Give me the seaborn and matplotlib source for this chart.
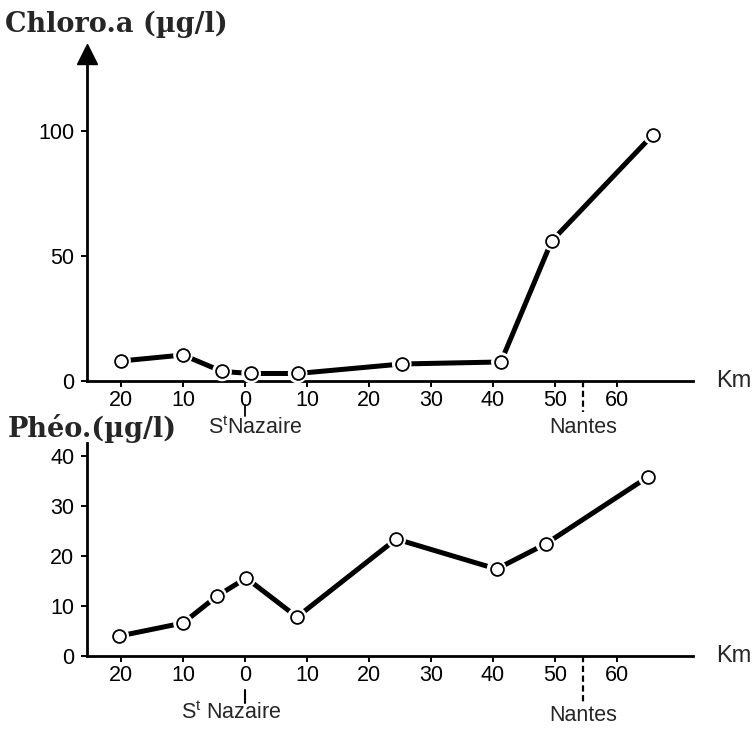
import matplotlib
matplotlib.use("Agg")
import matplotlib.pyplot as plt
from matplotlib.transforms import offset_copy
import numpy as np
import pandas as pd
import seaborn as sns

# ---------------- data ----------------
km_chloro = [-20.0, -10.0, -3.7, 1.0, 8.5, 25.3, 41.3, 49.5, 65.8]
chloro = [8.0, 10.4, 3.8, 3.0, 3.0, 6.8, 7.6, 56.0, 98.4]

km_pheo = [-20.3, -10.0, -4.5, 0.2, 8.4, 24.4, 40.6, 48.5, 65.0]
pheo = [4.0, 6.6, 12.0, 15.6, 7.8, 23.4, 17.4, 22.4, 35.8]

x_ticks = [-20, -10, 0, 10, 20, 30, 40, 50, 60]
x_ticklabels = ["20", "10", "0", "10", "20", "30", "40", "50", "60"]
chloro_yticks = [0, 50, 100]
pheo_yticks = [0, 10, 20, 30, 40]

st_nazaire_km = 0
nantes_km = 54.5

# ---------------- style ----------------
sns.set_style("ticks")
plt.rcParams["font.family"] = ["Liberation Sans", "DejaVu Sans"]
plt.rcParams["mathtext.fontset"] = "custom"
plt.rcParams["mathtext.rm"] = "Liberation Sans"
plt.rcParams["mathtext.it"] = "Liberation Sans:italic"

fig = plt.figure(figsize=(7.53, 7.29), dpi=100)
ax1 = fig.add_axes([0.1155, 0.4774, 0.8048, 0.4348])
ax2 = fig.add_axes([0.1155, 0.1001, 0.8048, 0.2922])

XLIM = (-25.5, 72.3)
TICK_FS = 15.5
LW = 3.6


def draw(ax, x, y, ylim, yticks):
    df = pd.DataFrame({"km": x, "v": y})
    sns.lineplot(data=df, x="km", y="v", ax=ax, sort=False, estimator=None,
                 color="black", lw=LW, zorder=2)
    sns.scatterplot(data=df, x="km", y="v", ax=ax, s=200, color="white",
                    edgecolor="none", zorder=3, clip_on=False)
    sns.scatterplot(data=df, x="km", y="v", ax=ax, s=85, color="white",
                    edgecolor="black", linewidth=1.3, zorder=4, clip_on=False)
    ax.set_xlim(*XLIM)
    ax.set_ylim(*ylim)
    ax.set_xticks(x_ticks)
    ax.set_xticklabels(x_ticklabels)
    ax.set_yticks(yticks)
    ax.set_xlabel("")
    ax.set_ylabel("")
    for s in ["top", "right"]:
        ax.spines[s].set_visible(False)
    for s in ["left", "bottom"]:
        ax.spines[s].set_linewidth(2.0)
        ax.spines[s].set_color("black")
    ax.tick_params(axis="both", direction="out", length=4.5, width=1.4,
                   colors="black", labelsize=TICK_FS)
    ax.tick_params(axis="x", pad=2.0)
    ax.tick_params(axis="y", pad=4.5)
    ax.annotate("Km", xy=(1, 0), xycoords="axes fraction", xytext=(17, 0),
                textcoords="offset points", ha="left", va="center",
                fontsize=17)


draw(ax1, km_chloro, chloro, (0, 126.8), chloro_yticks)
draw(ax2, km_pheo, pheo, (0, 42.6), pheo_yticks)

# arrow head on the chlorophyll y axis
arrow_tr = offset_copy(ax1.transAxes, fig=fig, y=10.5, units="dots")
ax1.plot([0], [1], marker="^", ms=15, color="black", transform=arrow_tr,
         clip_on=False)

# Nantes dashed markers and location names
ax1.plot([nantes_km, nantes_km], [0, -12.4], ls=(0, (2.8, 1.6)), lw=1.6,
         color="black", clip_on=False)
ax2.plot([nantes_km, nantes_km], [0, -9.4], ls=(0, (2.8, 1.6)), lw=1.6,
         color="black", clip_on=False)
ax1.plot([st_nazaire_km, st_nazaire_km], [-9.6, -14.0], lw=1.3,
         color="black", clip_on=False)
ax2.plot([st_nazaire_km, st_nazaire_km], [-6.8, -9.4], lw=1.5,
         color="black", clip_on=False)

ax1.text(1.6, -18.6, r"S$^{\mathrm{t}}$Nazaire", ha="center", va="center",
         fontsize=15.5, clip_on=False)
ax1.text(nantes_km, -18.8, "Nantes", ha="center", va="center",
         fontsize=15.5, clip_on=False)
ax2.text(-2.2, -11.4, r"S$^{\mathrm{t}}$ Nazaire", ha="center", va="center",
         fontsize=15.5, clip_on=False)
ax2.text(nantes_km, -11.8, "Nantes", ha="center", va="center",
         fontsize=15.5, clip_on=False)

# panel titles
fig.text(5 / 753, 1 - 32 / 729, "Chloro.a (µg/l)", family="DejaVu Serif",
         fontweight="bold", fontsize=19.5, ha="left", va="baseline")
fig.text(8 / 753, 1 - 437 / 729, "Phéo.(µg/l)", family="DejaVu Serif",
         fontweight="bold", fontsize=19.5, ha="left", va="baseline")

fig.savefig("out.png", dpi=100, facecolor="white")
